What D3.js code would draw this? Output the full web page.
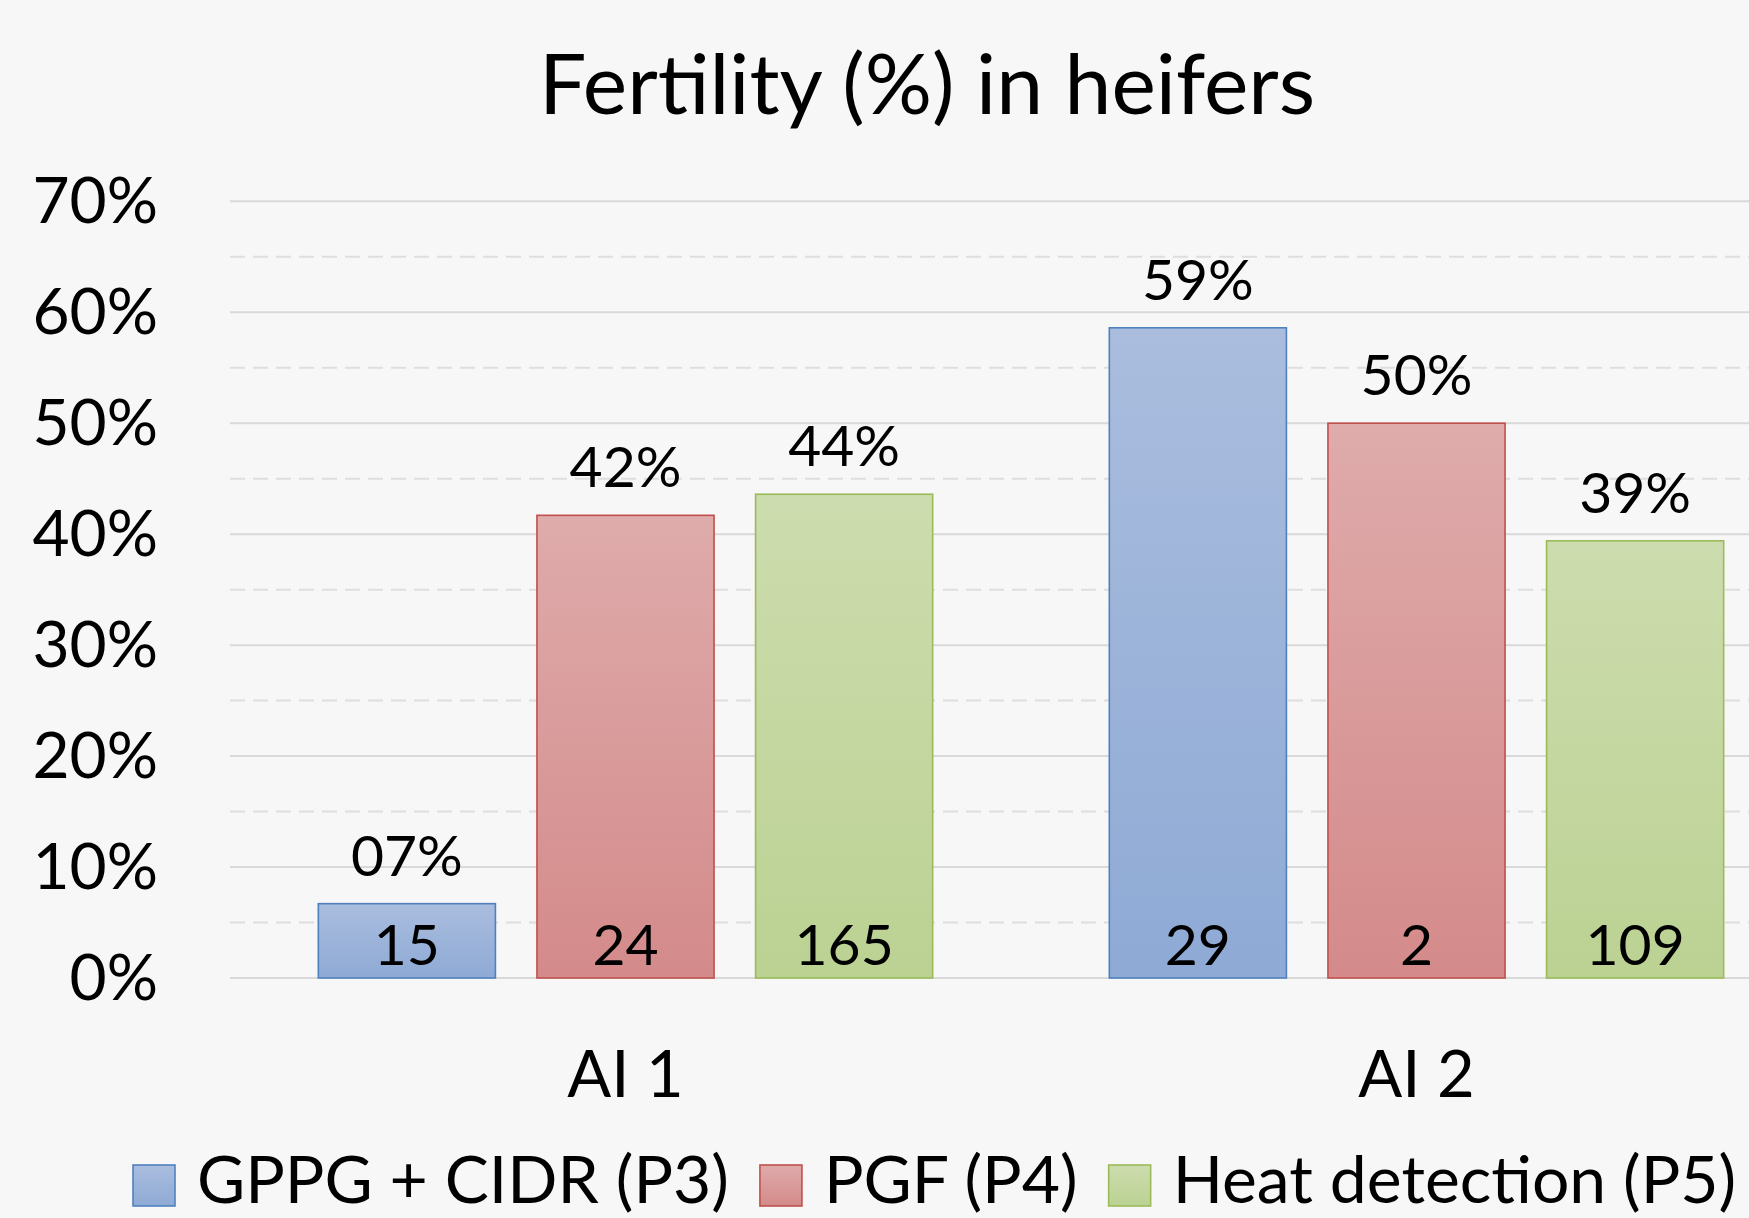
<!DOCTYPE html>
<html>
<head>
<meta charset="utf-8">
<script src="https://cdn.jsdelivr.net/npm/d3@7"></script>
<style>
  html, body { margin: 0; padding: 0; background: #f7f7f7; overflow: hidden; }
  svg { display: block; }
  text { font-family: Lato, "Open Sans", "Noto Sans", sans-serif; fill: #000; }
</style>
</head>
<body>
<svg id="chart" width="1749" height="1218"></svg>
<script>
// ---- data ----
const chartTitle = "Fertility (%) in heifers";
const categories = ["AI 1", "AI 2"];
const seriesNames = ["GPPG + CIDR (P3)", "PGF (P4)", "Heat detection (P5)"];
const gppgCidrFertility = [0.067, 0.586];
const pgfFertility = [0.417, 0.500];
const heatDetectionFertility = [0.436, 0.394];
const gppgCidrCount = [15, 29];
const pgfCount = [24, 2];
const heatDetectionCount = [165, 109];
const yTickValues = [0, 0.1, 0.2, 0.3, 0.4, 0.5, 0.6, 0.7];
const yMinorTickValues = [0.05, 0.15, 0.25, 0.35, 0.45, 0.55, 0.65];

// ---- styles ----
const seriesStyle = [
  { top: "#aabdde", bottom: "#8eaad5", stroke: "#4f81bd" },
  { top: "#dfabab", bottom: "#d48a8a", stroke: "#c0504d" },
  { top: "#cddcae", bottom: "#bbd293", stroke: "#9bbb59" }
];

const seriesValues = [gppgCidrFertility, pgfFertility, heatDetectionFertility];
const seriesCounts = [gppgCidrCount, pgfCount, heatDetectionCount];

const rows = [];
categories.forEach((c, ci) => {
  seriesNames.forEach((s, si) => {
    rows.push({ category: c, series: s, si, value: seriesValues[si][ci], count: seriesCounts[si][ci] });
  });
});

const svg = d3.select("#chart");
const W = 1749, H = 1218;
svg.append("rect").attr("width", W).attr("height", H).attr("fill", "#f7f7f7");

const defs = svg.append("defs");
seriesStyle.forEach((st, i) => {
  const g = defs.append("linearGradient").attr("id", "grad" + i)
    .attr("x1", 0).attr("y1", 0).attr("x2", 0).attr("y2", 1);
  g.append("stop").attr("offset", "0%").attr("stop-color", st.top);
  g.append("stop").attr("offset", "100%").attr("stop-color", st.bottom);
});

const plotLeft = 230, plotRight = 1812, plotTop = 201.3, plotBottom = 978;

const y = d3.scaleLinear().domain([0, 0.7]).range([plotBottom, plotTop]);
const x0 = d3.scaleBand().domain(categories).range([plotLeft, plotRight]).padding(0);
const x1 = d3.scaleBand().domain(seriesNames).range([0, x0.bandwidth()])
  .paddingInner(0.19).paddingOuter(0.404);

// gridlines
svg.append("g").selectAll("line").data(yMinorTickValues).join("line")
  .attr("x1", plotLeft).attr("x2", plotRight)
  .attr("y1", d => y(d)).attr("y2", d => y(d))
  .attr("stroke", "#dedede").attr("stroke-width", 2).attr("stroke-dasharray", "15,8");
svg.append("g").selectAll("line").data(yTickValues).join("line")
  .attr("x1", plotLeft).attr("x2", plotRight)
  .attr("y1", d => y(d)).attr("y2", d => y(d))
  .attr("stroke", "#d9d9d9").attr("stroke-width", 2);

// y axis labels
const yAxis = svg.append("g").attr("transform", `translate(${plotLeft},0)`)
  .call(d3.axisLeft(y).tickValues(yTickValues).tickFormat(d3.format(".0%")).tickSize(0).tickPadding(72));
yAxis.select(".domain").remove();
yAxis.selectAll("text").attr("font-size", 64).attr("font-family", "Lato, 'Open Sans', sans-serif").attr("fill", "#000").attr("dy", "0.33em");

// bars
const barG = svg.append("g");
barG.selectAll("rect").data(rows).join("rect")
  .attr("x", d => x0(d.category) + x1(d.series))
  .attr("width", x1.bandwidth())
  .attr("y", d => y(d.value))
  .attr("height", d => y(0) - y(d.value))
  .attr("fill", d => `url(#grad${d.si})`)
  .attr("stroke", d => seriesStyle[d.si].stroke)
  .attr("stroke-width", 1.6);

// value labels on top
const pctFmt = v => d3.format("02d")(Math.round(v * 100)) + "%";
svg.append("g").selectAll("text").data(rows).join("text")
  .attr("x", d => x0(d.category) + x1(d.series) + x1.bandwidth() / 2)
  .attr("y", d => y(d.value) - 28)
  .attr("text-anchor", "middle")
  .attr("font-size", 57)
  .text(d => pctFmt(d.value));

// count labels inside base
svg.append("g").selectAll("text").data(rows).join("text")
  .attr("x", d => x0(d.category) + x1(d.series) + x1.bandwidth() / 2)
  .attr("y", y(0) - 13)
  .attr("text-anchor", "middle")
  .attr("font-size", 57)
  .text(d => d.count);

// category axis labels
const xAxis = svg.append("g").attr("transform", `translate(0,${plotBottom})`)
  .call(d3.axisBottom(x0).tickSize(0).tickPadding(0));
xAxis.select(".domain").remove();
xAxis.selectAll("text").attr("font-size", 65).attr("font-family", "Lato, 'Open Sans', sans-serif")
  .attr("fill", "#000").attr("dy", null).attr("y", 1097 - plotBottom);

// title
svg.append("text").attr("x", 927).attr("y", 114).attr("text-anchor", "middle")
  .attr("font-size", 84).text(chartTitle);

// legend
const legend = svg.append("g");
let lx = 133;
seriesNames.forEach((name, i) => {
  legend.append("rect").attr("x", lx).attr("y", 1165).attr("width", 42).attr("height", 41)
    .attr("fill", `url(#grad${i})`).attr("stroke", seriesStyle[i].stroke).attr("stroke-width", 1.6);
  const t = legend.append("text").attr("x", lx + 64).attr("y", 1203)
    .attr("font-size", 66).text(name);
  lx = lx + 64 + t.node().getComputedTextLength() + 31;
});
</script>
</body>
</html>
